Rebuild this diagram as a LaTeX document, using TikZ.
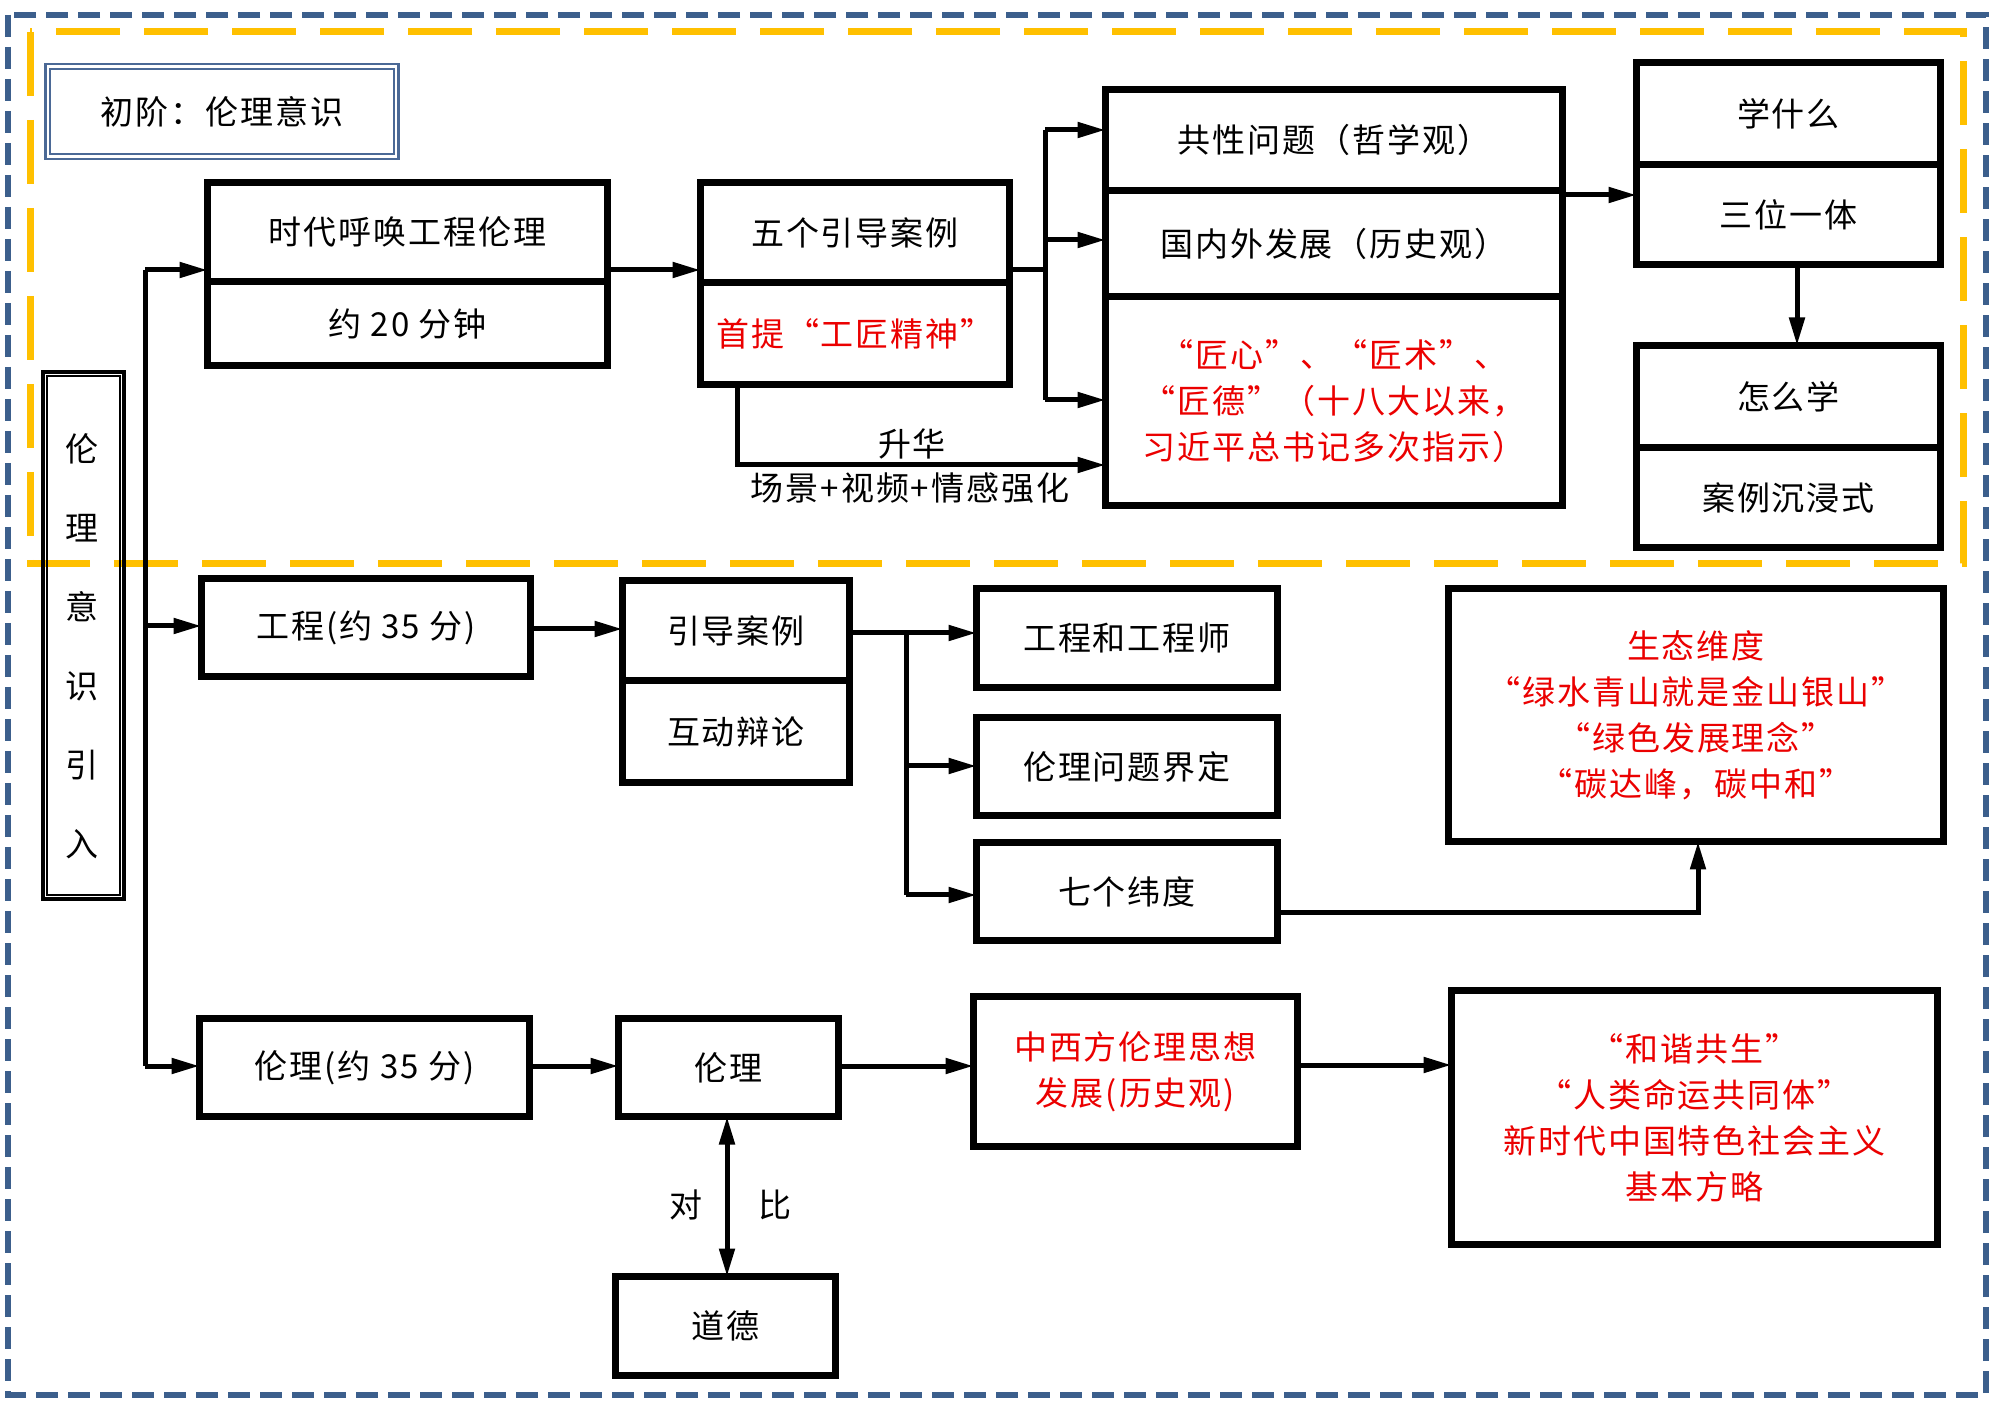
\documentclass[tikz,border=0pt]{standalone}
\usepackage{fontspec}
\setmainfont{Noto Sans CJK SC}[LetterSpace=6]
\usetikzlibrary{arrows.meta}
\definecolor{bordblue}{RGB}{60,95,140}
\definecolor{ylw}{RGB}{255,192,0}
\definecolor{ttlblue}{RGB}{75,105,150}
\definecolor{redtxt}{RGB}{235,0,0}
\newcommand\bx[7][]{\node[bx,#1, minimum width={(#5-#3-7)*0.5pt}, minimum height={(#6-#4-7)*0.5pt}] (#2) at ({(#3+#5)/2},{(#4+#6)/2}) {#7};}
\begin{document}
\begin{tikzpicture}[x=0.5pt,y=-0.5pt,
  bx/.style={draw, line width=3.5pt, inner sep=0pt, outer sep=0pt, font=\fontsize{16.5}{23}\selectfont, align=center},
  rtxt/.style={text=redtxt},
  lbl/.style={inner sep=0pt, font=\fontsize{16.5}{23}\selectfont, align=center},
  ln/.style={line width=2.5pt},
  arr/.style={line width=2.5pt, -{Triangle[length=14pt,width=7.5pt]}},
  darr/.style={line width=2.5pt, {Triangle[length=14pt,width=7.5pt]}-{Triangle[length=14pt,width=7.5pt]}}
]
\fill[white] (0,0) rectangle (1999,1406);
\useasboundingbox (0,0) rectangle (1999,1406);
% frames
\draw[bordblue, line width=3.4pt, dash pattern=on 11pt off 5pt] (8,15) rectangle (1986,1395);
\draw[ylw, line width=3.5pt, dash pattern=on 32pt off 12pt] (30,32) rectangle (1963,564);
% title
\node[draw=ttlblue, line width=1.2pt, minimum width={(355-2)*0.5pt}, minimum height={(97-2)*0.5pt}, inner sep=0pt, font=\fontsize{16.5}{23}\selectfont] (title) at (222,111.5) {初阶：伦理意识};
\draw[ttlblue, line width=1pt] ([shift={(6,6)}]title.north west) rectangle ([shift={(-6,-6)}]title.south east);
% side box
\node[draw, line width=2pt, minimum width={(85-4)*0.5pt}, minimum height={(531-4)*0.5pt}, inner sep=0pt] (side) at (83.5,635.5) {};
\draw[line width=0.7pt] ([shift={(6,6)}]side.north west) rectangle ([shift={(-6,-6)}]side.south east);
\node[lbl, font=\fontsize{16.5}{39.5}\selectfont] (sidetxt) at (82,646) {伦\\理\\意\\识\\引\\入};
% upper boxes
\bx{A1}{204}{179}{611}{285.5}{时代呼唤工程伦理}
\bx{A2}{204}{278.5}{611}{369}{约 20 分钟}
\bx{B1}{697}{179}{1013}{286.5}{五个引导案例}
\bx[rtxt]{B2}{697}{279.5}{1013}{388}{首提“工匠精神”}
\bx{C1}{1102}{86}{1566}{194.5}{共性问题（哲学观）}
\bx{C2}{1102}{187.5}{1566}{300.5}{国内外发展（历史观）}
\bx[rtxt]{C3}{1102}{293.5}{1566}{509}{“匠心”、“匠术”、\\“匠德”（十八大以来，\\习近平总书记多次指示）}
\bx{D1}{1633}{59}{1944}{168.5}{学什么}
\bx{D2}{1633}{161.5}{1944}{268}{三位一体}
\bx{E1}{1633}{342}{1944}{451.5}{怎么学}
\bx{E2}{1633}{444.5}{1944}{551}{案例沉浸式}
% lower boxes
\bx{F}{198}{575}{534}{680}{工程(约 35 分)}
\bx{G1}{619}{577}{853}{684.5}{引导案例}
\bx{G2}{619}{677.5}{853}{786}{互动辩论}
\bx{H1}{973}{585}{1281}{691}{工程和工程师}
\bx{H2}{973}{714}{1281}{819}{伦理问题界定}
\bx{H3}{973}{839}{1281}{944}{七个纬度}
\bx[rtxt]{I}{1445}{585}{1947}{845}{生态维度\\“绿水青山就是金山银山”\\“绿色发展理念”\\“碳达峰，碳中和”}
\bx{J}{196}{1015}{533}{1120}{伦理(约 35 分)}
\bx{K}{615}{1015}{842}{1120}{伦理}
\bx{L}{612}{1273}{839}{1379}{道德}
\bx[rtxt]{M}{970}{993}{1301}{1150}{中西方伦理思想\\发展(历史观)}
\bx[rtxt]{N}{1448}{987}{1941}{1248}{“和谐共生”\\“人类命运共同体”\\新时代中国特色社会主义\\基本方略}
% trunk
\coordinate (t1) at (145,270);
\coordinate (t2) at (145,626);
\coordinate (t3) at (145,1066);
\draw[ln] (t1) -- (t3);
\draw[arr] (t1) -- (t1 -| A1.west);
\draw[arr] (t2) -- (t2 -| F.west);
\draw[arr] (t3) -- (t3 -| J.west);
% upper connectors
\coordinate (ab) at (611,270);
\draw[arr] (ab -| A1.east) -- (ab -| B1.west);
\coordinate (bj) at (1045,270);
\coordinate (bt) at (1045,130);
\coordinate (bm) at (1045,240);
\coordinate (bb) at (1045,400);
\draw[ln] (bj -| B1.east) -- (bj);
\draw[ln] (bt) -- (bb);
\draw[arr] (bt) -- (bt -| C1.west);
\draw[arr] (bm) -- (bm -| C2.west);
\draw[arr] (bb) -- (bb -| C3.west);
\coordinate (sh) at (737,465);
\draw[arr] (sh |- B2.south) -- (sh) -- (sh -| C3.west);
\node[lbl] (shl) at (912,444) {升华};
\node[lbl] (cjl) at (910,488) {场景+视频+情感强化};
\coordinate (cd) at (1566,195);
\draw[arr] (cd -| C1.east) -- (cd -| D2.west);
\coordinate (de) at (1797,300);
\draw[arr] (de |- D2.south) -- (de |- E1.north);
% lower connectors
\coordinate (fg) at (600,629);
\draw[arr] (fg -| F.east) -- (fg -| G1.west);
\coordinate (gj) at (906,633);
\coordinate (gm) at (906,766);
\coordinate (gb) at (906,895);
\draw[arr] (gj -| G1.east) -- (gj -| H1.west);
\draw[ln] (gj) -- (gb);
\draw[arr] (gm) -- (gm -| H2.west);
\draw[arr] (gb) -- (gb -| H3.west);
\coordinate (hi) at (1698,913);
\draw[arr] (hi -| H3.east) -- (hi) -- (hi |- I.south);
\coordinate (jk) at (600,1066);
\draw[arr] (jk -| J.east) -- (jk -| K.west);
\draw[arr] (jk -| K.east) -- (jk -| M.west);
\coordinate (kl) at (727,1200);
\draw[darr] (kl |- K.south) -- (kl |- L.north);
\node[lbl] (dui) at (686,1205) {对};
\node[lbl] (bi) at (775,1205) {比};
\coordinate (mn) at (1375,1065);
\draw[arr] (mn -| M.east) -- (mn -| N.west);
\end{tikzpicture}
\end{document}
